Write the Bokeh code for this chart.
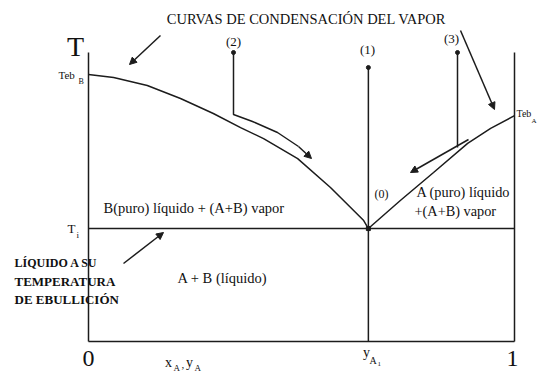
from bokeh.plotting import figure
from bokeh.models import Range1d, Arrow, NormalHead
from bokeh.core.properties import value
from bokeh.embed import file_html
from bokeh.resources import INLINE

# Phase diagram data: composition (mole fraction of A) and temperature (arb. units)
x_cond_B = [0.0, 0.059, 0.138, 0.216, 0.293, 0.357, 0.411, 0.491, 0.568, 0.646, 0.657]
T_cond_B = [100.0, 98.9, 95.9, 91.0, 85.4, 80.1, 76.0, 68.5, 57.7, 45.3, 42.3]
x_cond_A = [0.657, 0.732, 0.81, 0.89, 0.944, 1.0]
T_cond_A = [42.3, 52.8, 63.3, 74.2, 79.8, 84.6]
T_i = 42.3
y_A1 = 0.657
T_top = 108.2

W, H = 539, 374
# frame geometry: composition 0..1 spans px 88..514, T=0 at px 341
X0, X1, YB, PX_T = 88, 514, 341, 2.67


def dx(px):
    return (px - X0) / (X1 - X0)


def dy(py):
    return (YB - py) / PX_T


p = figure(width=W, height=H, output_backend="svg", toolbar_location=None,
           x_range=Range1d(dx(0), dx(W)), y_range=Range1d(dy(H), dy(0)),
           min_border=0, border_fill_color="white", background_fill_color="white")
p.axis.visible = False
p.grid.visible = False
p.outline_line_color = None

INK = "#1c1c1c"
TXT = "#111111"
LW = 1.5
FONT = value("Liberation Serif")

# frame: left and right temperature axes, composition axis
p.line([0, 0], [0, T_top], line_color=INK, line_width=LW)
p.line([1, 1], [0, T_top], line_color=INK, line_width=LW)
p.line([0, 1], [0, 0], line_color=INK, line_width=LW)
# eutectic-type temperature line and the composition y_A1
p.line([0, 1], [T_i, T_i], line_color=INK, line_width=LW)
p.line([y_A1, y_A1], [0, dy(67)], line_color=INK, line_width=LW)

# condensation curves
p.line(x_cond_B, T_cond_B, line_color=INK, line_width=LW)
p.line(x_cond_A, T_cond_A, line_color=INK, line_width=LW)
p.scatter([y_A1], [T_i], size=4, marker="square", color=INK)


def arrow(x0, y0, x1, y1):
    p.add_layout(Arrow(end=NormalHead(size=7, fill_color=INK, line_color=INK),
                       x_start=dx(x0), y_start=dy(y0), x_end=dx(x1), y_end=dy(y1),
                       line_color=INK, line_width=LW))


def path(pts):
    p.line([dx(a) for a, b in pts], [dy(b) for a, b in pts], line_color=INK, line_width=LW)


# cooling paths (1), (2), (3)
p.scatter([dx(233), y_A1, dx(457)], [dy(52), dy(67), dy(52)], size=4, color=INK)
path([(233, 52), (233, 114), (252, 121), (277, 132), (298, 146)])
arrow(298, 146, 311, 158)
path([(457, 52), (457, 147)])
arrow(468, 139, 410, 172)

# pointers from the labels
arrow(160, 35, 129, 64)
arrow(460, 30, 494, 109)
arrow(123, 263, 163, 232)


def label(px, py, txt, size, align="left", bold=False):
    p.text([dx(px)], [dy(py)], text=[txt], text_font=FONT,
           text_font_size=f"{size}px", text_align=align, text_baseline="middle",
           text_color=TXT, text_font_style="bold" if bold else "normal")


label(75, 46, "T", 28, "center")
label(58, 74, "Teb", 11)
label(78, 81, "B", 8)
label(516, 113, "Teb", 10)
label(531, 120, "A", 7)
label(67, 228, "T", 13)
label(76, 234, "i", 9)

label(306, 18, "CURVAS DE CONDENSACIÓN DEL VAPOR", 14.5, "center")
label(233, 41, "(2)", 13, "center")
label(367, 49, "(1)", 13, "center")
label(451, 38, "(3)", 13, "center")
label(381, 193, "(0)", 12, "center")

label(103, 207, "B(puro) líquido + (A+B) vapor", 14.5)
label(177, 277, "A + B (líquido)", 14.5)
label(416, 191, "A (puro) líquido", 14.3)
label(414, 210, "+(A+B) vapor", 14.3)

label(14, 262, "LÍQUIDO A SU", 12, bold=True)
label(14, 281, "TEMPERATURA", 13, bold=True)
label(14, 299, "DE EBULLICIÓN", 13, bold=True)

label(88, 358, "0", 24, "center")
label(512, 358, "1", 24, "center")
label(366, 352, "y", 14, "center")
label(369, 360, "A", 10)
label(377, 363, "1", 7)
label(168, 362, "x", 14, "center")
label(173, 367, "A", 9)
label(181, 364, ",", 11)
label(189, 362, "y", 14, "center")
label(194, 367, "A", 9)

open("out.html", "w").write(file_html(p, INLINE))
